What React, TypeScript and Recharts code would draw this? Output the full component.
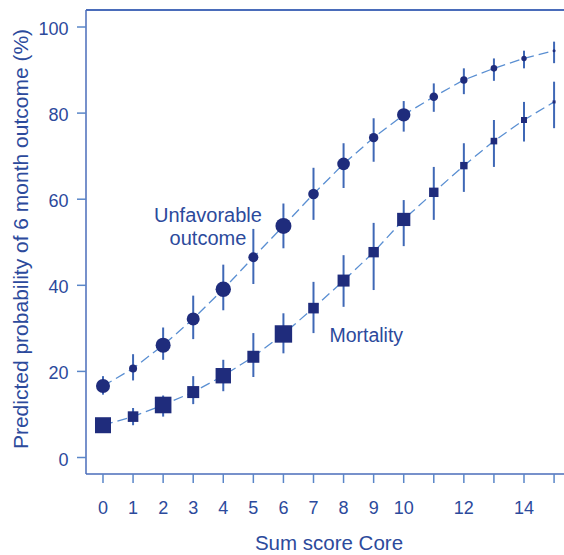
import React from 'react';
import { ComposedChart, Line, XAxis, YAxis, ErrorBar, ReferenceDot, ReferenceLine, Label } from 'recharts';

// ---- data ----
const scores = [0, 1, 2, 3, 4, 5, 6, 7, 8, 9, 10, 11, 12, 13, 14, 15];
const xTickLabels = ['0', '1', '2', '3', '4', '5', '6', '7', '8', '9', '10', '', '12', '', '14', ''];
const yTicks = [0, 20, 40, 60, 80, 100];

const unfavorable = [16.6, 20.7, 26.1, 32.2, 39.1, 46.5, 53.8, 61.2, 68.2, 74.3, 79.6, 83.8, 87.7, 90.4, 92.7, 94.5];
const unfavorableLow = [14.6, 17.9, 22.7, 27.5, 34.2, 40.3, 48.6, 55.2, 62.6, 68.7, 75.7, 80.3, 84.4, 87.5, 90.4, 91.6];
const unfavorableHigh = [18.9, 24.0, 30.2, 37.6, 44.8, 53.1, 59.0, 67.3, 73.0, 78.8, 82.8, 86.9, 90.4, 92.7, 94.5, 96.6];
const unfavorableWeight = [7, 4, 7.5, 6.5, 7.7, 5, 8, 5.3, 6.3, 4.7, 6.7, 4.3, 3.7, 3.3, 2.7, 1.5];

const mortality = [7.5, 9.5, 12.2, 15.2, 19.0, 23.4, 28.7, 34.7, 41.1, 47.7, 55.3, 61.6, 67.8, 73.5, 78.4, 82.6];
const mortalityLow = [6.0, 7.5, 9.5, 12.4, 15.4, 18.7, 24.2, 28.9, 35.0, 38.9, 49.1, 55.2, 61.7, 67.5, 73.4, 76.5];
const mortalityHigh = [9.0, 11.5, 14.4, 18.9, 22.7, 28.9, 33.5, 40.8, 47.0, 54.5, 59.8, 67.5, 73.0, 78.4, 82.6, 87.3];
const mortalityWeight = [8, 5.3, 8.3, 6, 7.7, 6, 8.7, 5.3, 6, 5.2, 6.6, 4.7, 3.7, 3.3, 3, 1.5];

const X_MIN = -0.565;
const X_MAX = 15.33;
const Y_MIN = -3.83;
const Y_MAX = 103.95;

const data = scores.map((s, i) => ({
  score: s,
  unfav: unfavorable[i],
  unfavErr: [unfavorable[i] - unfavorableLow[i], unfavorableHigh[i] - unfavorable[i]],
  unfavSize: unfavorableWeight[i],
  mort: mortality[i],
  mortErr: [mortality[i] - mortalityLow[i], mortalityHigh[i] - mortality[i]],
  mortSize: mortalityWeight[i],
}));

// ---- styles ----
const FONT = '"Liberation Sans", Arial, Helvetica, sans-serif';
const TEXT = '#2c4a9c';
const AXIS = '#4a6cba';
const TICK = '#5a86c8';
const MARK = '#1f2c7c';
const LINE = '#5a8fd2';
const ERR = '#3f68b6';

const XTick = (props: any) => {
  const { x, y, payload } = props;
  const idx = scores.indexOf(payload.value);
  const lab = idx >= 0 ? xTickLabels[idx] : '';
  return (
    <text x={x} y={y + 29} textAnchor="middle" fontSize={18} fontFamily={FONT} fill={TEXT}>
      {lab}
    </text>
  );
};

const YTick = (props: any) => {
  const { x, y, payload } = props;
  return (
    <text x={x - 6.5} y={y + 8} textAnchor="end" fontSize={18} fontFamily={FONT} fill={TEXT}>
      {payload.value}
    </text>
  );
};

const circleDot = (props: any) => {
  const { cx, cy, payload, index } = props;
  if (cx == null || cy == null) return <g key={`c${index}`} />;
  return <circle key={`c${index}`} cx={cx} cy={cy} r={payload.unfavSize} fill={MARK} />;
};

const squareDot = (props: any) => {
  const { cx, cy, payload, index } = props;
  if (cx == null || cy == null) return <g key={`s${index}`} />;
  const h = payload.mortSize;
  return <rect key={`s${index}`} x={cx - h} y={cy - h} width={2 * h} height={2 * h} fill={MARK} />;
};

const XTitle = () => (
  <text x={329} y={550} textAnchor="middle" fontSize={20.5} fontFamily={FONT} fill={TEXT}>
    Sum score Core
  </text>
);

const YTitle = () => (
  <text
    x={27.5}
    y={239}
    transform="rotate(-90 27.5 239)"
    textAnchor="middle"
    fontSize={21}
    fontFamily={FONT}
    fill={TEXT}
  >
    Predicted probability of 6 month outcome (%)
  </text>
);

const UnfavLabel = (props: any) => {
  const vb = props.viewBox || {};
  const cx = (vb.x || 0) + (vb.width || 0) / 2;
  const cy = (vb.y || 0) + (vb.height || 0) / 2;
  return (
    <text textAnchor="middle" fontSize={20} fontFamily={FONT} fill={TEXT}>
      <tspan x={cx} y={cy}>Unfavorable</tspan>
      <tspan x={cx} y={cy + 22.7}>outcome</tspan>
    </text>
  );
};

const MortLabel = (props: any) => {
  const vb = props.viewBox || {};
  const cx = (vb.x || 0) + (vb.width || 0) / 2;
  const cy = (vb.y || 0) + (vb.height || 0) / 2;
  return (
    <text x={cx} y={cy} textAnchor="start" fontSize={19.5} fontFamily={FONT} fill={TEXT}>
      Mortality
    </text>
  );
};

export default function App() {
  return (
    <div style={{ position: 'absolute', left: 0, top: 0, width: 564, height: 555, background: '#ffffff' }}>
      <ComposedChart width={564} height={555} data={data} margin={{ top: 10, right: 0, bottom: 0, left: 0 }}>
        <XAxis
          dataKey="score"
          type="number"
          domain={[X_MIN, X_MAX]}
          allowDataOverflow
          ticks={scores}
          interval={0}
          height={81}
          tickSize={9}
          tickLine={{ stroke: TICK, strokeWidth: 1.5 }}
          axisLine={{ stroke: AXIS, strokeWidth: 1.5 }}
          tick={<XTick />}
        >
          <Label content={<XTitle />} />
        </XAxis>
        <YAxis
          type="number"
          domain={[Y_MIN, Y_MAX]}
          allowDataOverflow
          ticks={yTicks}
          interval={0}
          width={86}
          tickSize={9}
          tickLine={{ stroke: TICK, strokeWidth: 1.5 }}
          axisLine={{ stroke: AXIS, strokeWidth: 1.5 }}
          tick={<YTick />}
        >
          <Label content={<YTitle />} />
        </YAxis>
        <ReferenceLine y={Y_MAX} stroke={AXIS} strokeWidth={2} />
        <Line
          dataKey="unfav"
          stroke={LINE}
          strokeWidth={1.3}
          strokeDasharray="10 5"
          dot={circleDot}
          activeDot={false}
          isAnimationActive={false}
        >
          <ErrorBar dataKey="unfavErr" direction="y" width={0} stroke={ERR} strokeWidth={2} />
        </Line>
        <Line
          dataKey="mort"
          stroke={LINE}
          strokeWidth={1.3}
          strokeDasharray="10 5"
          dot={squareDot}
          activeDot={false}
          isAnimationActive={false}
        >
          <ErrorBar dataKey="mortErr" direction="y" width={0} stroke={ERR} strokeWidth={2} />
        </Line>
        <ReferenceDot x={3.49} y={54.6} r={1} fill="none" stroke="none" ifOverflow="visible" label={<UnfavLabel />} />
        <ReferenceDot x={7.53} y={26.9} r={1} fill="none" stroke="none" ifOverflow="visible" label={<MortLabel />} />
      </ComposedChart>
    </div>
  );
}
